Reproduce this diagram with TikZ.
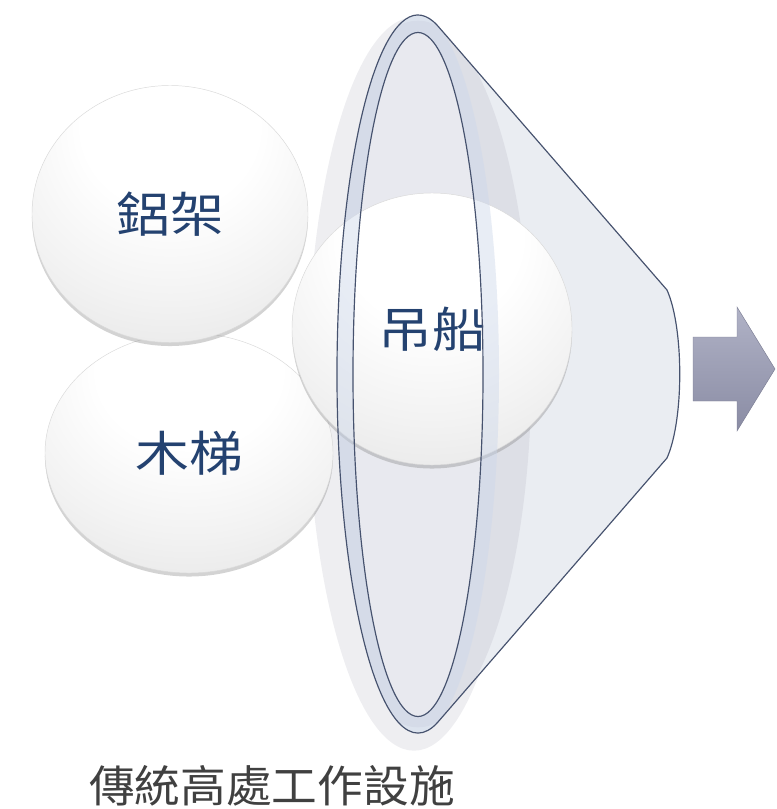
\documentclass[tikz,border=0pt]{standalone}
\usepackage{fontspec}
\newfontfamily\cjk[FakeStretch=1.12]{Noto Sans CJK TC}
\newfontfamily\cjkcap[FakeStretch=1.04]{Noto Sans CJK TC}
\usetikzlibrary{shapes.geometric,shadows}

\definecolor{labelblue}{RGB}{36,66,112}
\definecolor{rimline}{RGB}{70,82,110}
\definecolor{conefill}{RGB}{234,237,242}
\definecolor{conedark}{RGB}{221,223,230}
\definecolor{innerfill}{RGB}{232,233,239}
\definecolor{bandfill}{RGB}{205,216,235}
\definecolor{backshade}{RGB}{238,238,241}
\definecolor{arrowtop}{RGB}{176,178,198}
\definecolor{arrowbot}{RGB}{138,140,164}

\pgfdeclareradialshading{spheresh}{\pgfpoint{0bp}{22bp}}{color(0bp)=(white); color(16bp)=(white); color(30bp)=(black!5); color(42bp)=(black!10); color(52bp)=(black!15); color(62bp)=(black!21); color(72bp)=(black!42)}

\begin{document}
\begin{tikzpicture}[x=0.03cm, y=-0.03cm,
    sphere/.style={ellipse, shade, shading=spheresh, draw=black!15, line width=0.4pt,
        inner sep=0pt, text=labelblue, font=\cjk\fontsize{41}{41}\selectfont,
        drop shadow={shadow xshift=0pt, shadow yshift=-3pt, fill=black!50, opacity=.35}},
    rim/.style={draw=rimline, line width=1pt}]
    \useasboundingbox (0,0) rectangle (776,809);

    % back of the funnel
    \fill[backshade] (414,384) ellipse [x radius=3.2cm, y radius=11.0cm];
    \begin{scope}
        \clip (437.6,25.7) arc[start angle=76, end angle=284, x radius=2.43cm, y radius=10.77cm]
            -- (667,458) .. controls (684,420) and (684,328) .. (667,290) -- cycle;
        \fill[conefill] (300,0) rectangle (700,760);
        \fill[conedark] (418,374) ellipse [x radius=3.4cm, y radius=10.6cm];
        \fill[innerfill] (418,374.5) ellipse [x radius=1.95cm, y radius=10.26cm];
    \end{scope}

    % spheres
    \node[sphere, minimum width=8.64cm, minimum height=7.2cm] (ladder) at (189,453) {木梯};
    \node[sphere, minimum width=8.28cm, minimum height=7.71cm] (frame) at (170,214) {鋁架};
    \node[sphere, minimum width=8.4cm, minimum height=8.16cm] (gondola) at (432,329) {吊船};

    % front rim of the funnel
    \fill[bandfill, opacity=.45, even odd rule] (418,374) ellipse [x radius=2.43cm, y radius=10.77cm]
        (418,374.5) ellipse [x radius=1.95cm, y radius=10.26cm];
    \draw[rim, line join=round] (437.6,25.7) arc[start angle=76, end angle=284, x radius=2.43cm, y radius=10.77cm]
        -- (667,458) .. controls (684,420) and (684,328) .. (667,290) -- cycle;
    \draw[rim] (418,374.5) ellipse [x radius=1.95cm, y radius=10.26cm];

    % arrow
    \shade[top color=arrowtop, bottom color=arrowbot, draw=arrowbot!90!black, line width=0.4pt]
        (693,337) -- (737,337) -- (737,307) -- (775,369) -- (737,431) -- (737,401) -- (693,401) -- cycle;

    \node[text=black!75, font=\cjkcap\fontsize{37.5}{37.5}\selectfont] (caption) at (272,786) {傳統高處工作設施};
\end{tikzpicture}
\end{document}
